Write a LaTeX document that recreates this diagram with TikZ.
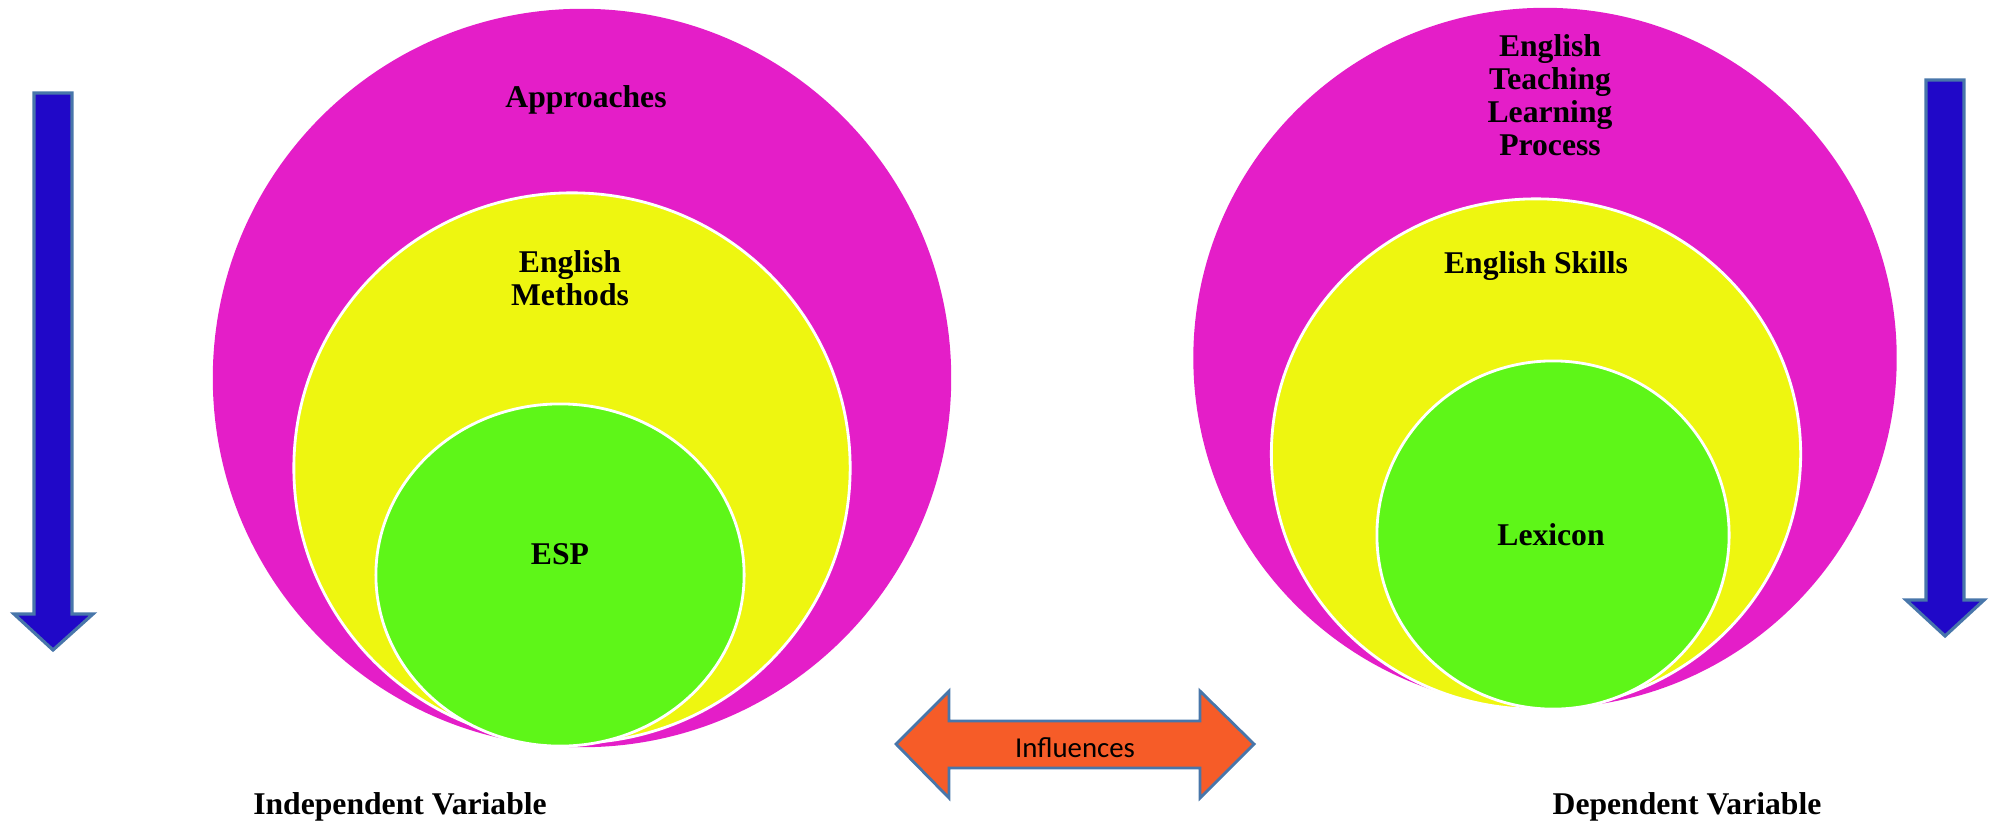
\documentclass[tikz,border=0pt]{standalone}
\usepackage{fontspec}
\setmainfont{Liberation Serif}
\newfontfamily\calibri{Carlito}
\usepackage{xcolor}
\usetikzlibrary{shapes.geometric}

\definecolor{ringmag}{RGB}{228,30,200}
\definecolor{ringyel}{RGB}{238,246,16}
\definecolor{ringgrn}{RGB}{94,246,24}
\definecolor{flowblue}{RGB}{32,8,200}
\definecolor{edgeblue}{RGB}{72,118,170}
\definecolor{inforange}{RGB}{246,92,40}

\begin{document}
\begin{tikzpicture}[
    x=0.01cm, y=-0.01cm,
    ring/.style={ellipse, inner sep=0pt},
    inring/.style={ring, draw=white, line width=0.8pt},
    ringtext/.style={font=\bfseries\fontsize{9}{9.4}\selectfont, align=center},
    flow/.style={fill=flowblue, draw=edgeblue, line width=0.9pt}
]
    \useasboundingbox (0,0) rectangle (1992,827);

    % Independent side
    \node[ring, fill=ringmag, minimum width=7.38cm, minimum height=7.38cm] (magL) at (582,378) {};
    \node[inring, fill=ringyel, minimum width=5.56cm, minimum height=5.50cm] (yelL) at (572,468) {};
    \node[inring, fill=ringgrn, minimum width=3.68cm, minimum height=3.42cm] (grnL) at (560,575) {};

    % Dependent side
    \node[ring, fill=ringmag, minimum width=7.03cm, minimum height=7.00cm] (magR) at (1545,358) {};
    \node[inring, fill=ringyel, minimum width=5.29cm, minimum height=5.10cm] (yelR) at (1536,454) {};
    \node[inring, fill=ringgrn, minimum width=3.52cm, minimum height=3.48cm] (grnR) at (1553,535) {};

    % Texts
    \node[ringtext] (appr) at (586,100) {Approaches};
    \node[ringtext] (meth) at (570,278) {English\\Methods};
    \node[ringtext] (esp) at (560,554) {ESP};
    \node[ringtext] (etlp) at (1550,95) {English\\Teaching\\Learning\\Process};
    \node[ringtext] (skills) at (1536,266) {English Skills};
    \node[ringtext] (lex) at (1551,535) {Lexicon};

    % Arrows
    \filldraw[flow] (34,93) -- (72,93) -- (72,614) -- (93,614) -- (53,650)
        -- (14,614) -- (34,614) -- cycle;
    \filldraw[flow] (1926,80) -- (1964,80) -- (1964,600) -- (1984,600) -- (1945,636)
        -- (1906,600) -- (1926,600) -- cycle;
    \filldraw[fill=inforange, draw=edgeblue, line width=0.8pt]
        (896,744) -- (949,691) -- (949,721) -- (1200,721) -- (1200,691) -- (1254,744)
        -- (1200,798) -- (1200,768) -- (949,768) -- (949,798) -- cycle;
    \node[font=\calibri\fontsize{8.2}{10}\selectfont] (infl) at (1075,748) {Influences};

    % Variables
    \node[ringtext] (indep) at (400,807) {Independent Variable};
    \node[ringtext] (dep) at (1687,807) {Dependent Variable};

\end{tikzpicture}
\end{document}
